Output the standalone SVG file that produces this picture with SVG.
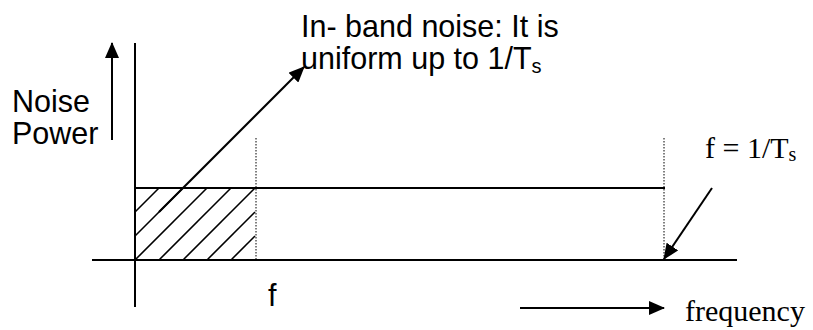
<svg xmlns="http://www.w3.org/2000/svg" width="813" height="330" viewBox="0 0 813 330">
  <style>
    .ln { stroke: #000; stroke-width: 2; fill: none; }
    .dot { stroke: #000; stroke-width: 1; stroke-dasharray: 1.5 1.5; fill: none; }
    .hatch { stroke: #000; stroke-width: 1.6; fill: none; }
    .sans { font-family: "Liberation Sans", Arial, sans-serif; font-size: 30.5px; fill: #000; }
    .serif { font-family: "Liberation Serif", "Times New Roman", serif; font-size: 30px; fill: #000; }
  </style>
  <defs>
    <marker id="ah" viewBox="0 0 16 14" refX="15" refY="7" markerWidth="16" markerHeight="14" markerUnits="userSpaceOnUse" orient="auto">
      <path d="M0,0 L16,7 L0,14 Z" fill="#000"/>
    </marker>
  </defs>

  <g id="axes">
    <line class="ln" x1="135" y1="43" x2="135" y2="307"/>
    <line class="ln" x1="92" y1="260" x2="737" y2="260"/>
  </g>

  <g id="noise-band">
    <line class="ln" x1="135" y1="188" x2="665" y2="188"/>
    <line class="dot" x1="256" y1="138" x2="256" y2="260"/>
    <line class="dot" x1="664" y1="138" x2="664" y2="260"/>
    <g id="hatching">
      <line class="hatch" x1="135" y1="212" x2="159" y2="188"/>
      <line class="hatch" x1="135" y1="236" x2="183" y2="188"/>
      <line class="hatch" x1="135" y1="260" x2="207" y2="188"/>
      <line class="hatch" x1="159" y1="260" x2="231" y2="188"/>
      <line class="hatch" x1="183" y1="260" x2="255" y2="188"/>
      <line class="hatch" x1="207" y1="260" x2="255" y2="212"/>
      <line class="hatch" x1="231" y1="260" x2="255" y2="236"/>
    </g>
  </g>

  <g id="connectors">
    <line class="ln" x1="112" y1="140" x2="112" y2="43" marker-end="url(#ah)"/>
    <line class="ln" x1="159" y1="212" x2="304" y2="67" marker-end="url(#ah)"/>
    <line class="ln" x1="712" y1="188" x2="664" y2="259" marker-end="url(#ah)"/>
    <line class="ln" x1="520" y1="308" x2="664" y2="308" marker-end="url(#ah)"/>
  </g>

  <g id="label-inband">
    <text class="sans" x="301" y="37">In- band noise: It is</text>
    <text class="sans" x="301" y="69">uniform up to 1/T<tspan font-size="20" dy="4">s</tspan></text>
  </g>
  <g id="label-noise-power">
    <text class="sans" x="12" y="112">Noise</text>
    <text class="sans" x="12" y="144">Power</text>
  </g>
  <g id="label-f">
    <text class="sans" x="268" y="306">f</text>
  </g>
  <g id="label-fs">
    <text class="serif" x="705" y="158">f = 1/T<tspan font-size="20" dy="3">s</tspan></text>
  </g>
  <g id="label-frequency">
    <text class="serif" x="685" y="321">frequency</text>
  </g>
</svg>
